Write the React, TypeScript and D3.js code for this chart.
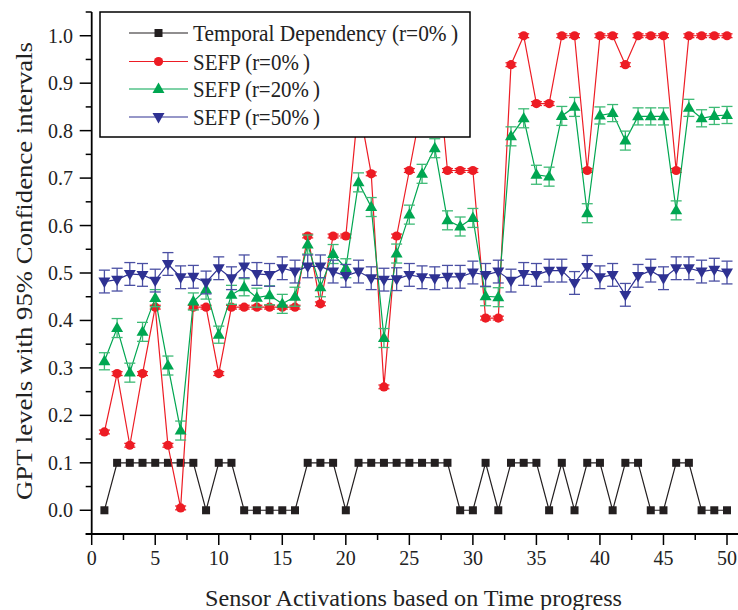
import React from 'react';
import * as d3 from 'd3';

const steps = d3.range(1, 51);
const temporal = [0,0.1,0.1,0.1,0.1,0.1,0.1,0.1,0,0.1, 0.1,0,0,0,0,0,0.1,0.1,0.1,0, 0.1,0.1,0.1,0.1,0.1,0.1,0.1,0.1,0,0, 0.1,0,0.1,0.1,0.1,0,0.1,0,0.1,0.1, 0,0.1,0.1,0,0,0.1,0.1,0,0,0];
const sefp0 = [0.165,0.288,0.137,0.288,0.428,0.137,0.005,0.428,0.428,0.288, 0.428,0.428,0.428,0.428,0.428,0.428,0.578,0.435,0.578,0.578, 0.857,0.709,0.26,0.578,0.716,0.857,1.0,0.716,0.716,0.716, 0.405,0.405,0.939,1.0,0.857,0.857,1.0,1.0,0.716,1.0, 1.0,0.939,1.0,1.0,1.0,0.716,1.0,1.0,1.0,1.0];
const sefp0Err = [0.004,0.004,0.004,0.004,0.004,0.004,0.004,0.004,0.004,0.004, 0.004,0.004,0.004,0.004,0.004,0.004,0.004,0.004,0.004,0.004, 0.004,0.004,0.004,0.004,0.004,0.004,0.004,0.004,0.004,0.004, 0.004,0.004,0.004,0.004,0.004,0.004,0.004,0.004,0.004,0.004, 0.004,0.004,0.004,0.004,0.004,0.004,0.004,0.004,0.004,0.004];
const sefp20 = [0.314,0.384,0.29,0.376,0.447,0.305,0.168,0.44,0.465,0.37, 0.454,0.47,0.448,0.453,0.435,0.45,0.56,0.47,0.54,0.51, 0.691,0.639,0.363,0.541,0.623,0.709,0.763,0.611,0.598,0.616, 0.451,0.449,0.788,0.826,0.707,0.703,0.831,0.85,0.626,0.832, 0.837,0.779,0.83,0.83,0.83,0.632,0.848,0.826,0.831,0.833];
const sefp20Err = [0.018,0.02,0.02,0.02,0.018,0.02,0.02,0.018,0.02,0.018, 0.02,0.018,0.02,0.02,0.02,0.02,0.02,0.02,0.02,0.02, 0.02,0.02,0.02,0.02,0.02,0.02,0.02,0.02,0.02,0.02, 0.02,0.02,0.02,0.02,0.02,0.02,0.02,0.02,0.02,0.018, 0.018,0.02,0.018,0.018,0.018,0.02,0.018,0.018,0.018,0.018];
const sefp50 = [0.482,0.486,0.498,0.496,0.484,0.519,0.491,0.492,0.48,0.51, 0.489,0.514,0.498,0.496,0.51,0.503,0.514,0.514,0.503,0.494, 0.503,0.489,0.486,0.487,0.496,0.491,0.489,0.492,0.492,0.501, 0.496,0.503,0.484,0.498,0.496,0.505,0.505,0.479,0.513,0.491, 0.496,0.454,0.494,0.505,0.489,0.51,0.51,0.503,0.507,0.501];
const sefp50Err = [0.024,0.024,0.024,0.024,0.024,0.024,0.024,0.024,0.024,0.024, 0.024,0.024,0.024,0.024,0.024,0.024,0.024,0.024,0.024,0.024, 0.024,0.024,0.024,0.024,0.024,0.024,0.024,0.024,0.024,0.024, 0.024,0.024,0.024,0.024,0.024,0.024,0.024,0.024,0.024,0.024, 0.024,0.024,0.024,0.024,0.024,0.024,0.024,0.024,0.024,0.024];

const legendLabels = ['Temporal Dependency (r=0%\u2009)', 'SEFP (r=0%\u2009)', 'SEFP (r=20%\u2009)', 'SEFP (r=50%\u2009)'];
const legendWidths = [265, 117, 127, 127];
const xTicks = [0, 5, 10, 15, 20, 25, 30, 35, 40, 45, 50];
const xMinor = [2.5, 7.5, 12.5, 17.5, 22.5, 27.5, 32.5, 37.5, 42.5, 47.5];
const yTicks = [0, 0.1, 0.2, 0.3, 0.4, 0.5, 0.6, 0.7, 0.8, 0.9, 1.0];
const yMinor = [-0.05, 0.05, 0.15, 0.25, 0.35, 0.45, 0.55, 0.65, 0.75, 0.85, 0.95, 1.05];
const xTitle = 'Sensor Activations based on Time progress';
const yTitle = 'GPT levels with 95% Confidence intervals';

const W = 738, H = 610;
const FONT = '"Liberation Serif", "Times New Roman", serif';

const x = d3.scaleLinear().domain([0, 50]).range([91.7, 727]);
const y = d3.scaleLinear().domain([-0.05, 1.05]).range([534, 12]);

const BLACK = '#231f20';
const RED = '#ed1c24';
const GREEN = '#00a651';
const BLUE = '#2e3192';

type Shape = 'square' | 'circle' | 'up' | 'down';

function Marker({ cx, cy, shape, color }: { cx: number; cy: number; shape: Shape; color: string }) {
  if (shape === 'square') return <rect x={cx - 4} y={cy - 4} width={8} height={8} fill={color} />;
  if (shape === 'circle') return <circle cx={cx} cy={cy} r={4.6} fill={color} />;
  const sym = d3.symbol().type(d3.symbolTriangle).size(62)();
  return <path d={sym || ''} transform={`translate(${cx},${cy + (shape === 'down' ? -0.5 : 0.5)}) rotate(${shape === 'down' ? 180 : 0})`} fill={color} />;
}

function Series({ vals, err, shape, color, errColor }: { vals: number[]; err?: number[]; shape: Shape; color: string; errColor?: string }) {
  const line = d3.line<number>().x((_, i) => x(steps[i])).y((d) => y(d));
  return (
    <g>
      <path d={line(vals) || ''} fill="none" stroke={color} strokeWidth={1.2} />
      {err && vals.map((v, i) => {
        const cx = x(steps[i]);
        const t = y(v + err[i]);
        const b = y(v - err[i]);
        return (
          <g key={'e' + i} stroke={errColor || color} strokeWidth={1.3}>
            <line x1={cx} x2={cx} y1={t} y2={b} />
            <line x1={cx - 5.5} x2={cx + 5.5} y1={t} y2={t} />
            <line x1={cx - 5.5} x2={cx + 5.5} y1={b} y2={b} />
          </g>
        );
      })}
      {vals.map((v, i) => (
        <Marker key={'m' + i} cx={x(steps[i])} cy={y(v)} shape={shape} color={color} />
      ))}
    </g>
  );
}

export default function App() {
  const legendItems: { shape: Shape; color: string }[] = [
    { shape: 'square', color: BLACK },
    { shape: 'circle', color: RED },
    { shape: 'up', color: GREEN },
    { shape: 'down', color: BLUE },
  ];
  const rowY = [33, 61.5, 89, 117];
  return (
    <svg width={W} height={H} style={{ position: 'absolute', left: 0, top: 0, background: '#fff' }} fontFamily={FONT}>
      <rect width={W} height={H} fill="#fff" />
      <Series vals={temporal} shape="square" color={BLACK} />
      <Series vals={sefp0} err={sefp0Err} shape="circle" color={RED} />
      <Series vals={sefp20} err={sefp20Err} shape="up" color={GREEN} errColor="#3dba75" />
      <Series vals={sefp50} err={sefp50Err} shape="down" color={BLUE} errColor="#4a4fa3" />

      {/* axes */}
      <line x1={x(0)} x2={x(0)} y1={y(1.05)} y2={y(-0.05) + 1} stroke="#000" strokeWidth={1.8} />
      <line x1={x(0) - 6} x2={W} y1={y(-0.05)} y2={y(-0.05)} stroke="#000" strokeWidth={1.8} />
      {yTicks.map((t) => (
        <g key={'yt' + t}>
          <line x1={x(0) - 12} x2={x(0)} y1={y(t)} y2={y(t)} stroke="#000" strokeWidth={1.5} />
          <text x={73} y={y(t) + 7} fontSize={20} textAnchor="end" fill="#222">{t.toFixed(1)}</text>
        </g>
      ))}
      {yMinor.map((t) => (
        <line key={'ym' + t} x1={x(0) - 6} x2={x(0)} y1={y(t)} y2={y(t)} stroke="#000" strokeWidth={1.5} />
      ))}
      {xTicks.map((t) => (
        <g key={'xt' + t}>
          <line x1={x(t)} x2={x(t)} y1={y(-0.05)} y2={y(-0.05) + 11} stroke="#000" strokeWidth={1.5} />
          <text x={x(t)} y={565} fontSize={20} textAnchor="middle" fill="#222">{t}</text>
        </g>
      ))}
      {xMinor.map((t) => (
        <line key={'xm' + t} x1={x(t)} x2={x(t)} y1={y(-0.05)} y2={y(-0.05) + 6} stroke="#000" strokeWidth={1.5} />
      ))}
      <text x={205} y={606} fontSize={23} textLength={417} lengthAdjust="spacingAndGlyphs" fill="#222">{xTitle}</text>
      <text transform={`translate(32,500) rotate(-90)`} fontSize={23} textLength={458} lengthAdjust="spacingAndGlyphs" fill="#222">{yTitle}</text>

      {/* legend */}
      <rect x={100} y={12} width={370} height={125} fill="#fff" stroke="#000" strokeWidth={1.5} />
      {legendItems.map((it, i) => (
        <g key={'lg' + i}>
          <line x1={129} x2={188} y1={rowY[i]} y2={rowY[i]} stroke={it.color} strokeWidth={1.2} />
          <Marker cx={158.5} cy={rowY[i]} shape={it.shape} color={it.color} />
          <text x={193} y={rowY[i] + 8} fontSize={23} textLength={legendWidths[i]} lengthAdjust="spacingAndGlyphs" fill="#222">{legendLabels[i]}</text>
        </g>
      ))}
    </svg>
  );
}
